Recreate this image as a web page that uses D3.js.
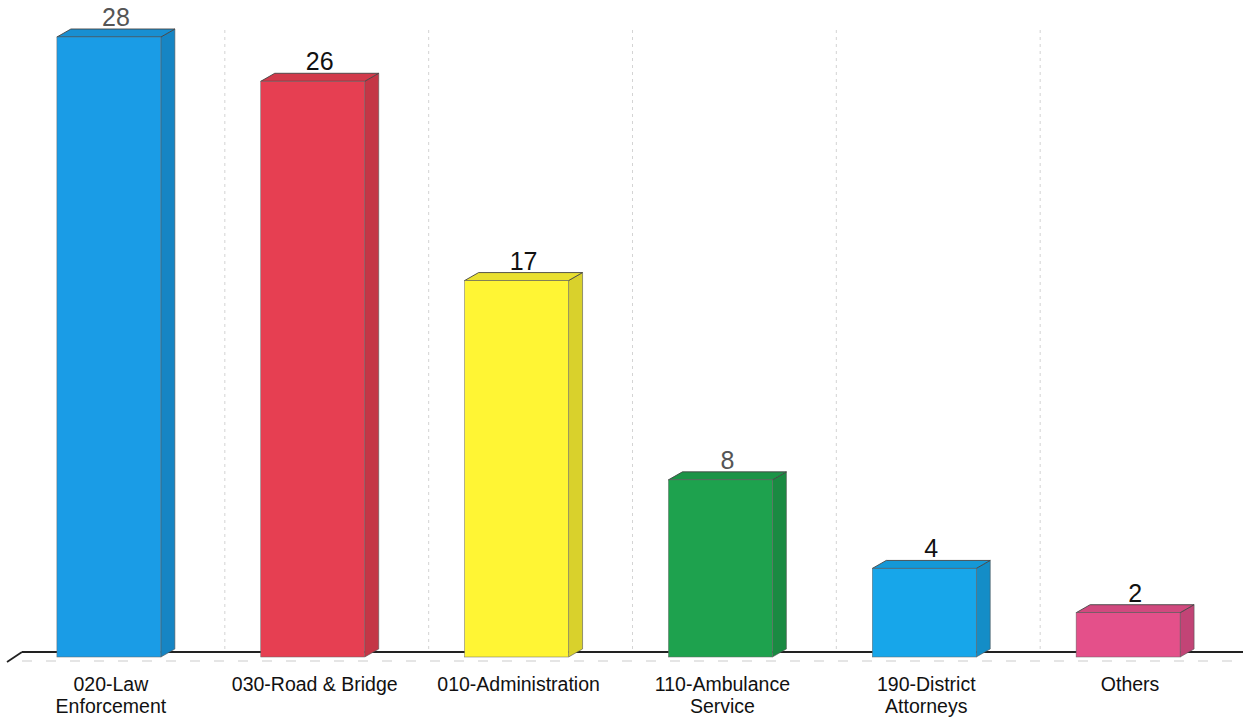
<!DOCTYPE html>
<html><head><meta charset="utf-8">
<script src="https://cdn.jsdelivr.net/npm/d3@7/dist/d3.min.js"></script>
<style>body{margin:0;background:#fff}svg{display:block}</style>
</head><body>
<svg id="c" width="1243" height="717"></svg>
<script>
const categories = ["020-Law\nEnforcement","030-Road & Bridge","010-Administration","110-Ambulance\nService","190-District\nAttorneys","Others"];
const values = [28, 26, 17, 8, 4, 2];
const colors = ["#1a9ce6","#e63f52","#fff534","#1ea24e","#17a6ea","#e4508a"];
const labelColors = ["#555","#111","#111","#555","#111","#111"];

const W = 1243, H = 717;
const svg = d3.select("#c");
const x = d3.scaleBand().domain(categories).range([8, 1229]).paddingInner(0.49).paddingOuter(0.24);
const y = d3.scaleLinear().domain([0, 28]).range([657, 37]);
const dx = 14, dy = 8;

// faint back-wall dotted gridlines between categories
const bounds = categories.slice(1).map((c,i)=> (x(categories[i]) + x.bandwidth() + x(c))/2 + dx);
svg.selectAll("line.grid").data(bounds).enter().append("line")
  .attr("x1", d=>d).attr("x2", d=>d).attr("y1", 30).attr("y2", 650)
  .attr("stroke", "#aaa").attr("stroke-width", 1).attr("stroke-dasharray", "3,4").attr("opacity", 0.5);

// floor
svg.append("line").attr("x1", 22).attr("x2", W).attr("y1", 652).attr("y2", 652).attr("stroke", "#222").attr("stroke-width", 2);
svg.append("line").attr("x1", 7).attr("x2", 22).attr("y1", 662).attr("y2", 652).attr("stroke", "#222").attr("stroke-width", 1.8);
svg.append("line").attr("x1", 22).attr("x2", W).attr("y1", 661).attr("y2", 661).attr("stroke", "#999").attr("stroke-width", 1).attr("stroke-dasharray", "10,14").attr("opacity", 0.5);

const g = svg.selectAll("g.bar").data(values).enter().append("g");
g.each(function(v, i){
  const sel = d3.select(this);
  const x0 = x(categories[i]), w = x.bandwidth(), yt = y(v), yb = y(0);
  const c = d3.color(colors[i]);
  // side
  sel.append("path").attr("d", `M${x0+w},${yt} L${x0+w+dx},${yt-dy} L${x0+w+dx},${yb-dy} L${x0+w},${yb} Z`)
    .attr("fill", c.darker(0.45)).attr("stroke", "#555").attr("stroke-width", 0.6);
  // top
  sel.append("path").attr("d", `M${x0},${yt} L${x0+dx},${yt-dy} L${x0+w+dx},${yt-dy} L${x0+w},${yt} Z`)
    .attr("fill", c.darker(0.25)).attr("stroke", "#444").attr("stroke-width", 0.9);
  // front
  sel.append("rect").attr("x", x0).attr("y", yt).attr("width", w).attr("height", yb-yt)
    .attr("fill", colors[i]).attr("stroke", "#666").attr("stroke-width", 0.5);
  // value label
  sel.append("text").attr("x", x0 + w/2 + dx/2).attr("y", yt - dy - 3)
    .attr("text-anchor", "middle").attr("font-family", "Liberation Sans, Arial, sans-serif")
    .attr("font-size", 25).attr("fill", labelColors[i]).text(v);
});

// category labels
categories.forEach((c, i) => {
  const cx = x(c) + x.bandwidth()/2 + 2;
  const t = svg.append("text").attr("x", cx).attr("y", 691)
    .attr("text-anchor", "middle").attr("font-family", "Liberation Sans, Arial, sans-serif")
    .attr("font-size", 19.5).attr("fill", "#111");
  c.split("\n").forEach((line, k) => {
    t.append("tspan").attr("x", cx).attr("dy", k === 0 ? 0 : 22).text(line);
  });
});
</script>
</body></html>
